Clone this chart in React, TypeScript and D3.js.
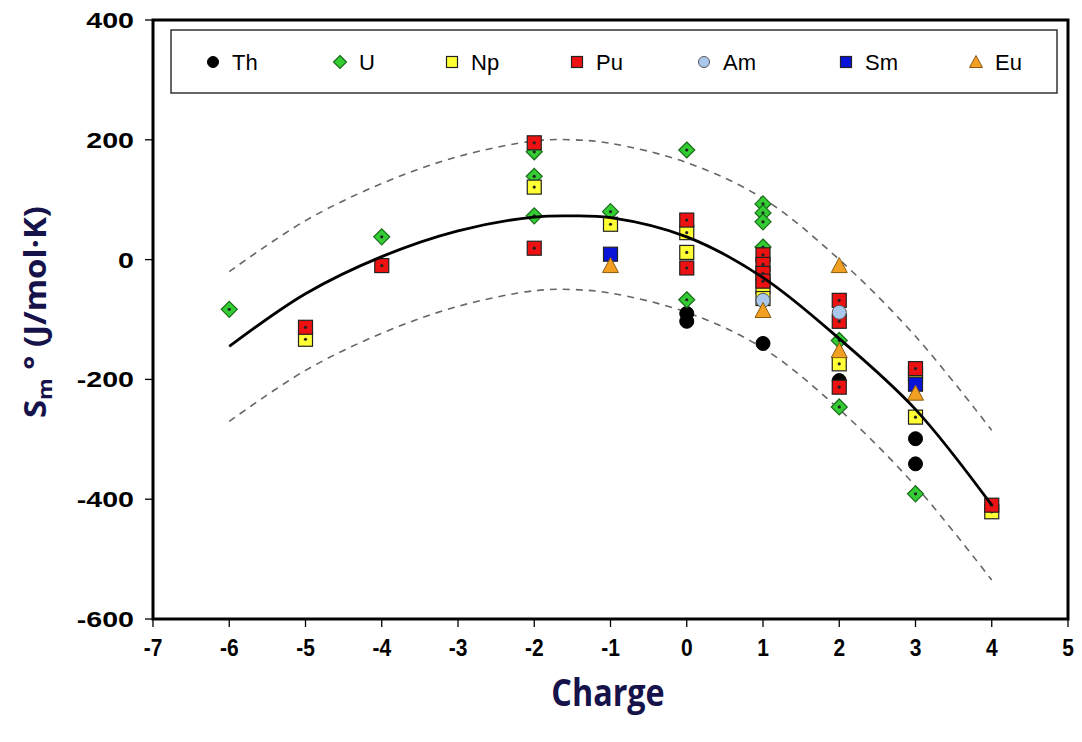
import React from "react";
import * as d3 from "d3";

const xTicks = [-7, -6, -5, -4, -3, -2, -1, 0, 1, 2, 3, 4, 5];
const yTicks = [400, 200, 0, -200, -400, -600];

const thData: [number, number][] = [[0, -90], [0, -103], [1, -140], [2, -202], [3, -299], [3, -341]];
const uData: [number, number][] = [[-6, -83], [-4, 38], [-2, 180], [-2, 139], [-2, 73], [-1, 80], [0, 183], [0, -67], [1, 93], [1, 78], [1, 63], [1, 21], [2, -135], [2, -246], [3, -391]];
const npData: [number, number][] = [[-5, -133], [-2, 121], [-1, 59], [0, 45], [0, 12], [1, -45], [1, -65], [2, -174], [3, -190], [3, -263], [4, -421]];
const puData: [number, number][] = [[-5, -113], [-4, -10], [-2, 195], [-2, 19], [0, 66], [0, -14], [1, 8], [1, -8], [1, -23], [1, -36], [2, -68], [2, -103], [2, -213], [3, -182], [4, -410]];
const amData: [number, number][] = [[1, -68], [2, -88]];
const smData: [number, number][] = [[-1, 9], [3, -208]];
const euData: [number, number][] = [[-1, -10], [1, -85], [2, -10], [2, -152], [3, -223]];

const fitLine: [number, number][] = [[-6, -145], [-5, -57], [-4, 5], [-3, 48], [-2, 71], [-1.5, 73], [-1, 70], [0, 38], [1, -30], [2, -132], [3, -250], [4, -410]];
const upperLine: [number, number][] = [[-6, -20], [-5, 65], [-4, 127], [-3, 172], [-2, 198], [-1.5, 200], [-1, 194], [0, 162], [1, 102], [2, 0], [3, -128], [4, -285]];
const lowerLine: [number, number][] = upperLine.map(([c, v]) => [c, v - 250]);

type Shape = "circle" | "diamond" | "square" | "triangle";
const series: { name: string; data: [number, number][]; shape: Shape; fill: string; dot: boolean }[] = [
  { name: "Th", data: thData, shape: "circle", fill: "#000000", dot: false },
  { name: "U", data: uData, shape: "diamond", fill: "#33cc33", dot: true },
  { name: "Np", data: npData, shape: "square", fill: "#ffff33", dot: true },
  { name: "Pu", data: puData, shape: "square", fill: "#ee1111", dot: true },
  { name: "Am", data: amData, shape: "circle", fill: "#a9c8ec", dot: false },
  { name: "Sm", data: smData, shape: "square", fill: "#0a14d8", dot: false },
  { name: "Eu", data: euData, shape: "triangle", fill: "#f2a024", dot: false },
];

const legendX = [213, 340, 452, 577, 704, 846, 976];

function Marker({ shape, fill, x, y, s, dot }: { shape: Shape; fill: string; x: number; y: number; s: number; dot: boolean }) {
  const h = s / 2;
  let el: React.ReactNode;
  if (shape === "circle") el = <circle cx={x} cy={y} r={h} fill={fill} stroke={fill === "#000000" ? "#000" : "#555"} strokeWidth={1} />;
  else if (shape === "square") el = <rect x={x - h} y={y - h} width={s} height={s} fill={fill} stroke="#222" strokeWidth={1.2} />;
  else if (shape === "diamond") el = <path d={`M${x},${y - h - 1}L${x + h + 1},${y}L${x},${y + h + 1}L${x - h - 1},${y}Z`} fill={fill} stroke="#1a6a1a" strokeWidth={1.2} />;
  else el = <path d={`M${x},${y - h - 1}L${x + h + 1},${y + h}L${x - h - 1},${y + h}Z`} fill={fill} stroke="#8a5a10" strokeWidth={1} />;
  return (
    <g>
      {el}
      {dot && <circle cx={x} cy={y} r={1.6} fill="#222" />}
    </g>
  );
}

export default function App() {
  const W = 1082, H = 742;
  const left = 153, right = 1068, top = 20, bottom = 619;
  const x = d3.scaleLinear().domain([-7, 5]).range([left, right]);
  const y = d3.scaleLinear().domain([-600, 400]).range([bottom, top]);
  const line = d3.line<[number, number]>().x(d => x(d[0])).y(d => y(d[1])).curve(d3.curveCatmullRom.alpha(0.5));
  const font = "'Liberation Sans', Arial, sans-serif";
  const titleFont = "'Open Sans', 'Noto Sans', sans-serif";
  const navy = "#16124a";
  return (
    <svg width={W} height={H} style={{ position: "absolute", left: 0, top: 0, background: "#fff" }}>
      <rect width={W} height={H} fill="#fff" />
      {/* ticks */}
      {xTicks.map(t => (
        <g key={"xt" + t}>
          <line x1={x(t)} x2={x(t)} y1={bottom} y2={bottom + 8} stroke="#000" strokeWidth={1.3} />
          <text transform={`translate(${x(t)},${bottom + 37}) scale(1,1.15)`} textAnchor="middle" fontFamily={font} fontWeight="bold" fontSize={21} fill="#000">{t < 0 ? "-" + Math.abs(t) : t}</text>
        </g>
      ))}
      {yTicks.map(t => (
        <g key={"yt" + t}>
          <line x1={left - 8} x2={left} y1={y(t)} y2={y(t)} stroke="#000" strokeWidth={1.3} />
          <text transform={`translate(${left - 19},${y(t) + 8}) scale(1.3,1)`} textAnchor="end" fontFamily={font} fontWeight="bold" fontSize={22} fill="#000">{t < 0 ? "-" + Math.abs(t) : t}</text>
        </g>
      ))}
      {/* curves */}
      <path d={line(upperLine) || ""} fill="none" stroke="#666" strokeWidth={1.6} strokeDasharray="7,6" />
      <path d={line(lowerLine) || ""} fill="none" stroke="#666" strokeWidth={1.6} strokeDasharray="7,6" />
      {/* points */}
      {series.map(s => (
        <g key={s.name}>
          {s.data.map((d, i) => (
            <Marker key={i} shape={s.shape} fill={s.fill} x={x(d[0])} y={y(d[1])} s={14} dot={s.dot} />
          ))}
        </g>
      ))}
      <path d={line(fitLine) || ""} fill="none" stroke="#000" strokeWidth={2.8} />
      {/* frame */}
      <rect x={left} y={top} width={right - left} height={bottom - top} fill="none" stroke="#000" strokeWidth={3} />
      {/* legend */}
      <rect x={171} y={30} width={886} height={63} fill="#fff" stroke="#333" strokeWidth={1.5} />
      {series.map((s, i) => (
        <g key={"lg" + s.name}>
          <Marker shape={s.shape} fill={s.fill} x={legendX[i]} y={62} s={11} dot={false} />
          <text x={legendX[i] + 19} y={70} fontFamily={font} fontSize={22} fill="#000">{s.name}</text>
        </g>
      ))}
      {/* axis titles */}
      <text transform="translate(608,706) scale(0.95,1.1)" textAnchor="middle" fontFamily={titleFont} fontWeight="bold" fontSize={34} fill={navy}>Charge</text>
      <text transform={`translate(46,${312}) rotate(-90) scale(1.1,1)`} textAnchor="middle" fontFamily={titleFont} fontWeight="bold" fontSize={30} fill={navy}>
        S<tspan fontSize={20} dy={6}>m</tspan><tspan dy={-6}> ° (J/mol·K)</tspan>
      </text>
    </svg>
  );
}
